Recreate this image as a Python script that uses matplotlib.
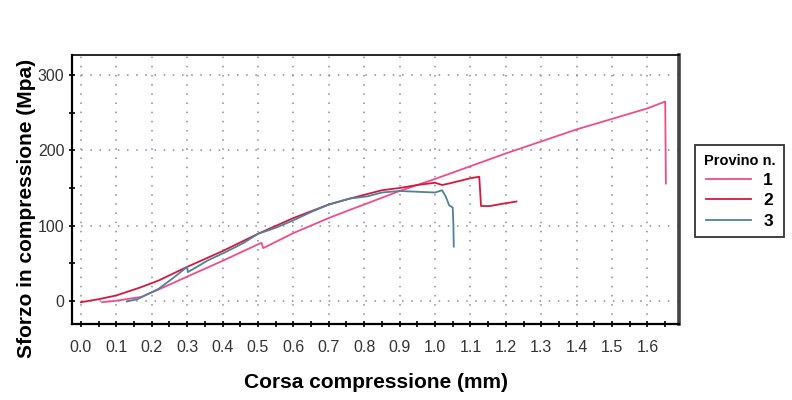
import matplotlib
matplotlib.use("Agg")
import matplotlib.pyplot as plt
from matplotlib.ticker import MultipleLocator

plt.rcParams['font.family'] = ['Liberation Sans', 'DejaVu Sans']

# Provino 1
x1 = [0.06, 0.10, 0.17, 0.22, 0.30, 0.40, 0.50, 0.51, 0.515, 0.60, 0.70, 0.76, 0.80, 0.90, 1.00, 1.10, 1.20, 1.30, 1.40, 1.45, 1.50, 1.60, 1.65, 1.652]
y1 = [-2, 0, 5, 15, 32, 53, 75, 77, 70, 90, 110, 121, 128, 146, 162, 179, 196, 212, 228, 235, 242, 256, 265, 156]
# Provino 2
x2 = [0.0, 0.05, 0.10, 0.17, 0.22, 0.30, 0.40, 0.50, 0.60, 0.70, 0.76, 0.85, 0.90, 0.95, 1.00, 1.02, 1.04, 1.10, 1.125, 1.13, 1.155, 1.19, 1.23]
y2 = [-2, 2, 7, 18, 27, 45, 66, 89, 110, 128, 136, 147, 150, 154, 157, 154, 156, 163, 165, 126, 126, 129, 132]
# Provino 3
x3 = [0.13, 0.16, 0.22, 0.26, 0.30, 0.302, 0.36, 0.41, 0.46, 0.50, 0.55, 0.60, 0.65, 0.70, 0.76, 0.81, 0.85, 0.90, 0.95, 1.00, 1.02, 1.03, 1.04, 1.05, 1.052, 1.053]
y3 = [-1, 2, 16, 30, 45, 38, 54, 65, 77, 89, 97, 107, 118, 128, 136, 139, 144, 146, 145, 144, 147, 139, 127, 124, 100, 72]

labels = ["1", "2", "3"]
colors = ["#ee4c8c", "#d8173f", "#4f8198"]
xticks = [i / 10 for i in range(17)]
yticks = [0, 100, 200, 300]

fig = plt.figure(figsize=(7.92, 4.0), dpi=100)
ax = fig.add_axes([72/792, 1-324/400, (679-72)/792, (324-55)/400])

ax.set_xlim(-0.025, 1.689)
ax.set_ylim(-31, 327)

ax.plot(x1, y1, color=colors[0], lw=1.3, label=labels[0], zorder=3)
ax.plot(x2, y2, color=colors[1], lw=1.3, label=labels[1], zorder=3)
ax.plot(x3, y3, color=colors[2], lw=1.3, label=labels[2], zorder=4)

ax.set_xticks(xticks)
ax.set_xticklabels([f"{v:.1f}" for v in xticks])
ax.set_yticks(yticks)
ax.xaxis.set_minor_locator(MultipleLocator(0.05))
ax.yaxis.set_minor_locator(MultipleLocator(50))

ax.tick_params(axis='both', which='both', direction='inout', length=5, width=1.2, color='black',
               labelsize=11.5, labelcolor='#333333')
ax.tick_params(axis='both', which='minor', length=4)
ax.tick_params(axis='x', pad=9)
ax.tick_params(axis='y', pad=3)

ax.grid(True, which='major', color='#8a8a9a', linestyle=(0, (1, 5)), linewidth=1.1)

for s in ax.spines.values():
    s.set_color('black')
ax.spines['left'].set_linewidth(1.6)
ax.spines['bottom'].set_linewidth(1.6)
ax.spines['top'].set_linewidth(1.2)
ax.spines['right'].set_linewidth(2.6)
ax.spines['right'].set_color('#444444')

ax.set_xlabel("Corsa compressione (mm)", fontsize=15, fontweight='bold', labelpad=13)
ax.set_ylabel("Sforzo in compressione (Mpa)", fontsize=15, fontweight='bold')
ax.yaxis.set_label_coords(-0.059, 0.43)

leg = ax.legend(loc='upper right', bbox_to_anchor=(784/792, 1-145/400), bbox_transform=fig.transFigure,
                title="Provino n.", fancybox=False, frameon=True, edgecolor='black',
                fontsize=12.5, title_fontsize=10.5, handlelength=2.6, handletextpad=0.7,
                borderpad=0.5, labelspacing=0.3, borderaxespad=0, alignment='center')
leg.get_frame().set_linewidth(1.3)
leg.get_title().set_fontweight('bold')
for t in leg.get_texts():
    t.set_fontweight('bold')

fig.savefig("out.png", dpi=100)
